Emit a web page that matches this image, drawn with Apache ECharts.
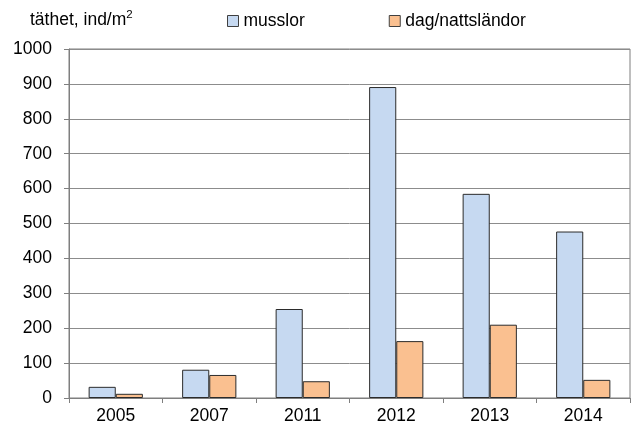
<!DOCTYPE html>
<html>
<head>
<meta charset="utf-8">
<script src="https://cdn.jsdelivr.net/npm/echarts@6/dist/echarts.min.js"></script>
<style>
  html, body { margin: 0; padding: 0; background: #fff; }
  #chart { width: 641px; height: 425px; }
</style>
</head>
<body>
<div id="chart"></div>
<script>
// Density of mussels and mayflies/caddisflies per sampling year
const years = ['2005', '2007', '2011', '2012', '2013', '2014'];
const musslor = [32, 81, 255, 891, 585, 477];
const dagNattslandor = [12, 66, 48, 163, 210, 52];
const seriesNames = ['musslor', 'dag/nattsländor'];
const seriesColors = ['#c6d9f1', '#fac090'];

const font = 'Liberation Sans, Arial, sans-serif';
const chart = echarts.init(document.getElementById('chart'), null, { renderer: 'canvas' });

chart.setOption({
  animation: false,
  backgroundColor: '#ffffff',
  textStyle: { fontFamily: font },
  title: {
    text: '{a|täthet, ind/m}{s|2}',
    left: 30,
    top: 9,
    padding: 0,
    textStyle: {
      fontWeight: 'normal',
      rich: {
        a: { fontFamily: font, fontSize: 17.5, lineHeight: 22, color: '#000', fontWeight: 'normal' },
        s: { fontFamily: font, fontSize: 11.5, lineHeight: 12, color: '#000', fontWeight: 'normal', verticalAlign: 'top' }
      }
    }
  },
  legend: {
    top: 12,
    left: 227,
    padding: 0,
    itemWidth: 11,
    itemHeight: 11,
    itemGap: 84,
    textStyle: { fontFamily: font, fontSize: 17.5, color: '#000' },
    data: seriesNames.map((n, i) => ({
      name: n,
      icon: 'rect',
      itemStyle: { color: seriesColors[i], borderColor: '#404040', borderWidth: 1 }
    }))
  },
  grid: {
    left: 69,
    right: 11,
    top: 49,
    bottom: 27,
    show: true,
    borderColor: '#7f7f7f',
    borderWidth: 1,
    containLabel: false
  },
  xAxis: {
    type: 'category',
    data: years,
    axisLine: { lineStyle: { color: '#7f7f7f' } },
    axisTick: { show: true, length: 5, lineStyle: { color: '#7f7f7f' } },
    axisLabel: { color: '#000', fontSize: 17.5, fontFamily: font, margin: 9 }
  },
  yAxis: {
    type: 'value',
    min: 0,
    max: 1000,
    interval: 100,
    axisLine: { show: true, lineStyle: { color: '#7f7f7f' } },
    axisTick: { show: true, length: 5, lineStyle: { color: '#7f7f7f' } },
    axisLabel: { color: '#000', fontSize: 17.5, fontFamily: font, margin: 17, formatter: v => String(v) },
    splitLine: { lineStyle: { color: '#8c8c8c', width: 1 } }
  },
  series: [
    {
      name: seriesNames[0],
      type: 'bar',
      data: musslor,
      barGap: '0%',
      barCategoryGap: '42%',
      itemStyle: { color: seriesColors[0], borderColor: '#2b2b2b', borderWidth: 1 }
    },
    {
      name: seriesNames[1],
      type: 'bar',
      data: dagNattslandor,
      itemStyle: { color: seriesColors[1], borderColor: '#2b2b2b', borderWidth: 1 }
    }
  ]
});
</script>
</body>
</html>
